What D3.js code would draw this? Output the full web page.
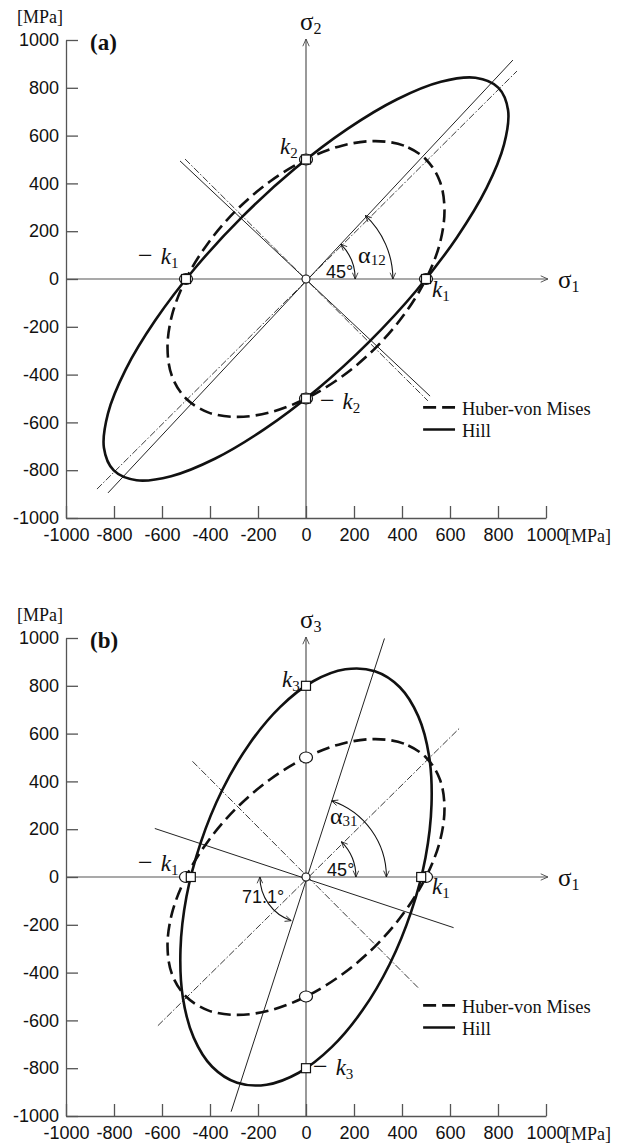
<!DOCTYPE html>
<html><head><meta charset="utf-8">
<script src="https://cdn.jsdelivr.net/npm/d3@7"></script>
<style>body{margin:0;background:#fff} svg{display:block}</style>
</head><body>
<svg id="c" width="618" height="1147"></svg>
<script>
// ---------- data (MPa) ----------
const tickValues = [-1000,-800,-600,-400,-200,0,200,400,600,800,1000];

// Huber-von Mises yield locus (same in both panels)
const vonMises = [[500,500],[408,558],[289,577],[150,558],[0,500],[-150,408],[-289,289],[-408,150],[-500,0],[-558,-150],[-577,-289],[-558,-408],
  [-500,-500],[-408,-558],[-289,-577],[-150,-558],[0,-500],[150,-408],[289,-289],[408,-150],[500,0],[558,150],[577,289],[558,408]];

// Hill locus, panel (a) sigma1-sigma2
const hillA = [[801,801],[706,842],[562,825],[380,752],[173,628],[-47,461],[-263,263],[-461,47],[-628,-173],[-752,-380],[-825,-562],[-842,-706],
  [-801,-801],[-706,-842],[-562,-825],[-380,-752],[-173,-628],[47,-461],[263,-263],[461,-47],[628,173],[752,380],[825,562],[842,706]];

// Hill locus, panel (b) sigma1-sigma3
const hillB = [[287,861],[164,869],[30,819],[-107,712],[-236,557],[-349,364],[-438,146],[-498,-82],[-523,-304],[-513,-505],[-468,-672],[-391,-794],
  [-287,-861],[-164,-869],[-30,-819],[107,-712],[236,-557],[349,-364],[438,-146],[498,82],[523,304],[513,505],[468,672],[391,794]];

// reference lines (endpoints)
const hillAxisA  = [[-825,-895],[862,916]];
const misesAxisA = [[-871,-879],[879,870]];
const hillPerpA  = [[-525,494],[517,-490]];
const misesPerpA = [[-504,502],[508,-510]];
const hillAxisB  = [[-312,-982],[327,998]];
const misesAxisB = [[-617,-622],[640,623]];
const hillPerpB  = [[-630,203],[615,-212]];
const misesPerpB = [[-473,484],[473,-469]];

// angle arcs: radius (MPa), start / end angle (deg)
const arcsA = [[205,0,45],[362,0,47]];
const arcsB = [[208,0,45],[335,0,71.5],[192,180,251.5]];

// yield-point markers
const squaresA = [[500,0],[-500,0],[0,500],[0,-500]];
const circlesA = [[500,0],[-500,0],[0,500],[0,-500]];
const squaresB = [[480,0],[-480,0],[0,800],[0,-800]];
const circlesB = [[500,0],[-500,0],[0,500],[0,-500]];

// ---------- drawing ----------
const svg = d3.select('#c');
const defs = svg.append('defs');
defs.append('marker').attr('id','arr').attr('viewBox','0 0 10 10')
  .attr('refX',10).attr('refY',5).attr('markerWidth',7).attr('markerHeight',7)
  .attr('markerUnits','userSpaceOnUse').attr('orient','auto-start-reverse')
  .append('path').attr('d','M1,1L10,5L1,9').attr('fill','none').attr('stroke','#111').attr('stroke-width',1.1);
defs.append('marker').attr('id','axarr').attr('viewBox','0 0 10 10')
  .attr('refX',10).attr('refY',5).attr('markerWidth',8).attr('markerHeight',8)
  .attr('markerUnits','userSpaceOnUse').attr('orient','auto')
  .append('path').attr('d','M1,1L10,5L1,9').attr('fill','none').attr('stroke','#444').attr('stroke-width',1.1);

const x = d3.scaleLinear().domain([-1000,1000]).range([66,546]);
const SERIF = '"Liberation Serif","Times New Roman",serif';
const SANS = '"Liberation Sans",Arial,sans-serif';

function text(g, xs, ys, parts){
  const t = g.append('text').attr('x',xs).attr('y',ys).attr('fill','#111');
  parts.forEach(p=>{
    const s = t.append('tspan').text(p.t)
      .attr('font-family',p.f||SERIF).attr('font-size',p.s||18);
    if(p.i) s.attr('font-style','italic');
    if(p.b) s.attr('font-weight','bold');
    if(p.dy) s.attr('dy',p.dy);
    if(p.dx) s.attr('dx',p.dx);
  });
  return t;
}

function panel(cfg){
  const y = d3.scaleLinear().domain([-1000,1000]).range([518+cfg.off, 40+cfg.off]);
  const g = svg.append('g');
  const X = d=>x(d[0]), Y = d=>y(d[1]);

  // frame axes with inward ticks
  const fmt = d => String(d);
  const ya = g.append('g').attr('transform',`translate(${x(-1000)},0)`)
    .call(d3.axisLeft(y).tickValues(tickValues).tickFormat(fmt).tickSizeInner(-12).tickSizeOuter(0).tickPadding(7));
  const xa = g.append('g').attr('transform',`translate(0,${y(-1000)})`)
    .call(d3.axisBottom(x).tickValues(tickValues).tickFormat(fmt).tickSizeInner(-12).tickSizeOuter(0).tickPadding(10));
  [ya,xa].forEach(a=>{
    a.selectAll('text').attr('font-family',SANS).attr('font-size',18).attr('fill','#111');
    a.selectAll('line,path').attr('stroke','#555').attr('stroke-width',1.3);
  });

  // inner sigma axes
  g.append('line').attr('x1',x(-1000)).attr('y1',y(0)).attr('x2',x(1008)).attr('y2',y(0))
    .attr('stroke','#555').attr('stroke-width',1.2).attr('marker-end','url(#axarr)');
  g.append('line').attr('x1',x(0)).attr('y1',y(-1000)).attr('x2',x(0)).attr('y2',y(1004))
    .attr('stroke','#555').attr('stroke-width',1.2).attr('marker-end','url(#axarr)');

  // reference lines
  const seg = (pts, dash, w) => g.append('line')
    .attr('x1',X(pts[0])).attr('y1',Y(pts[0])).attr('x2',X(pts[1])).attr('y2',Y(pts[1]))
    .attr('stroke','#222').attr('stroke-width',w).attr('stroke-dasharray',dash);
  seg(cfg.hillAxis,null,1);
  seg(cfg.hillPerp,null,1);
  seg(cfg.misesAxis,'7,2,1.5,2',0.9);
  seg(cfg.misesPerp,'7,2,1.5,2',0.9);

  // loci
  const line = d3.line().x(X).y(Y).curve(d3.curveCatmullRomClosed.alpha(0.5));
  g.append('path').attr('d',line(vonMises)).attr('fill','none').attr('stroke','#111')
    .attr('stroke-width',2.6).attr('stroke-dasharray','13,6');
  g.append('path').attr('d',line(cfg.hill)).attr('fill','none').attr('stroke','#111')
    .attr('stroke-width',2.6);

  // angle arcs
  const cx = x(0), cy = y(0), unit = x(1) - x(0);
  cfg.arcs.forEach(a=>{
    const p = d3.path();
    const r = a[0]*unit, a0 = -a[1]*Math.PI/180, a1 = -a[2]*Math.PI/180;
    p.arc(cx, cy, r, a0, a1, true);
    g.append('path').attr('d',p.toString()).attr('fill','none').attr('stroke','#111').attr('stroke-width',1.1)
      .attr('marker-start','url(#arr)').attr('marker-end','url(#arr)');
  });

  // markers
  g.selectAll('ellipse.m').data(cfg.circles).enter().append('ellipse')
    .attr('cx',X).attr('cy',Y).attr('rx',6.5).attr('ry',5.5)
    .attr('fill','#fff').attr('stroke','#111').attr('stroke-width',1.2);
  g.selectAll('rect.m').data(cfg.squares).enter().append('rect')
    .attr('x',d=>X(d)-4.5).attr('y',d=>Y(d)-4.5).attr('width',9).attr('height',9)
    .attr('fill','#fff').attr('stroke','#111').attr('stroke-width',1.2);
  g.append('circle').attr('cx',cx).attr('cy',cy).attr('r',4).attr('fill','#fff').attr('stroke','#111').attr('stroke-width',1.1);

  // labels
  text(g, x(-1204), y(1071), [{t:'[MPa]',s:18}]);
  text(g, x(1079), y(-1100), [{t:'[MPa]',s:18}]);
  text(g, x(-900), y(958), [{t:cfg.tag,s:23,b:true}]);
  text(g, x(-25), y(1042), [{t:'σ',s:25},{t:cfg.yName,s:16,dy:4}]);
  text(g, x(1050), y(-38), [{t:'σ',s:25},{t:'1',s:16,dy:4}]);
  cfg.labels.forEach(l=>{
    const parts = [];
    if(l.minus){ parts.push({t:'−',s:26}); parts.push({t:l.main,s:23,i:true,dx:8}); }
    else parts.push({t:l.main,s:l.s||23,i:l.i!==false,f:l.f});
    if(l.sub) parts.push({t:l.sub,s:l.ss||15,dy:l.sdy||4});
    text(g, x(l.x), y(l.y), parts);
  });

  // legend
  g.append('line').attr('x1',x(488)).attr('x2',x(621)).attr('y1',y(-537)).attr('y2',y(-537))
    .attr('stroke','#111').attr('stroke-width',2.6).attr('stroke-dasharray','13,6');
  g.append('line').attr('x1',x(488)).attr('x2',x(621)).attr('y1',y(-630)).attr('y2',y(-630))
    .attr('stroke','#111').attr('stroke-width',2.6);
  text(g, x(650), y(-570), [{t:'Huber-von Mises',s:18.5}]);
  text(g, x(650), y(-660), [{t:'Hill',s:18.5}]);
}

panel({off:0, tag:'(a)', yName:'2', hill:hillA,
  hillAxis:hillAxisA, hillPerp:hillPerpA, misesAxis:misesAxisA, misesPerp:misesPerpA,
  arcs:arcsA, squares:squaresA, circles:circlesA,
  labels:[
    {main:'k',sub:'2',x:-108,y:523},
    {main:'k',sub:'1',x:-700,y:63,minus:true},
    {main:'k',sub:'1',x:525,y:-75},
    {main:'k',sub:'2',x:58,y:-544,minus:true},
    {main:'45°',x:83,y:4,i:false,f:SANS,s:18},
    {main:'α',sub:'12',x:217,y:67,i:false,s:24,ss:15,sdy:2}
  ]});

panel({off:598, tag:'(b)', yName:'3', hill:hillB,
  hillAxis:hillAxisB, hillPerp:hillPerpB, misesAxis:misesAxisB, misesPerp:misesPerpB,
  arcs:arcsB, squares:squaresB, circles:circlesB,
  labels:[
    {main:'k',sub:'3',x:-100,y:793},
    {main:'k',sub:'1',x:-700,y:25,minus:true},
    {main:'k',sub:'1',x:525,y:-71},
    {main:'k',sub:'3',x:29,y:-827,minus:true},
    {main:'45°',x:88,y:4,i:false,f:SANS,s:18},
    {main:'71.1°',x:-267,y:-109,i:false,f:SANS,s:18},
    {main:'α',sub:'31',x:100,y:221,i:false,s:24,ss:15,sdy:2}
  ]});
</script>
</body></html>
